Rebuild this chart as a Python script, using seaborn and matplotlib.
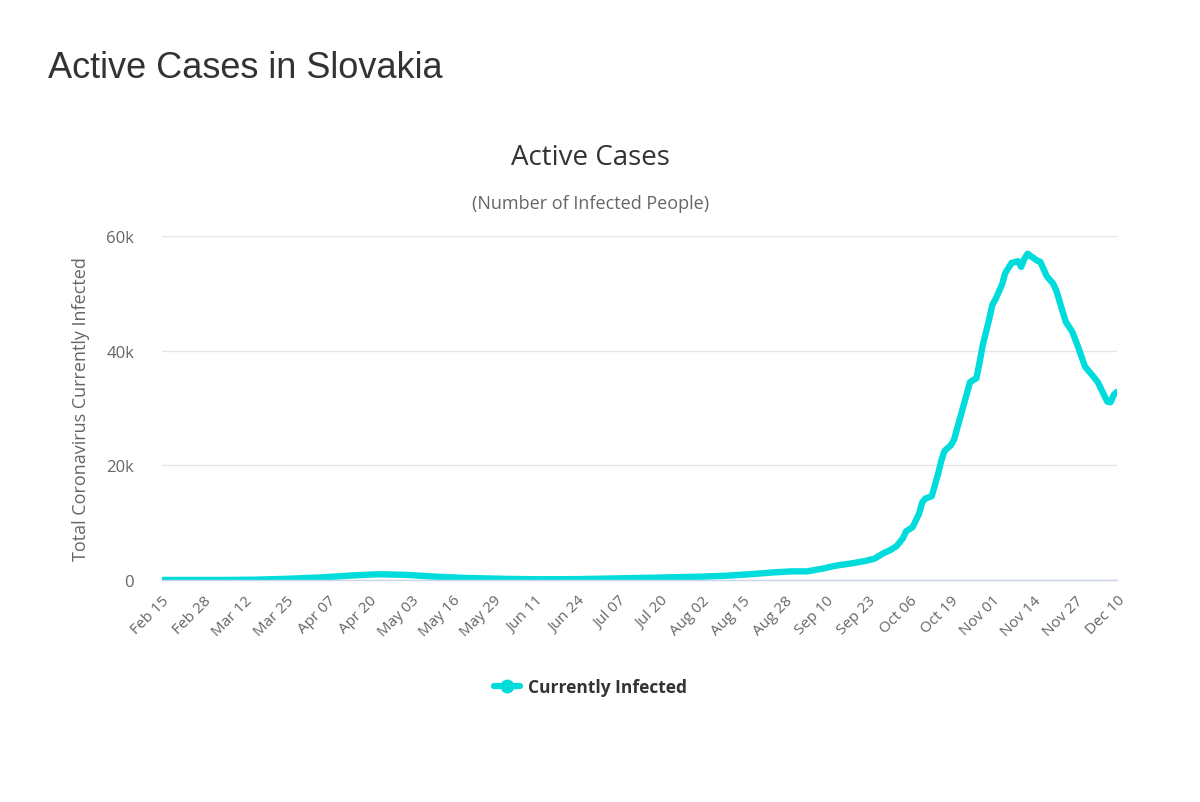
import pandas as pd
import matplotlib.pyplot as plt
import matplotlib.ticker as mticker
from matplotlib.lines import Line2D
import seaborn as sns

# Datos (casos activos en Eslovaquia, 2020)
fechas = ['2020-02-15', '2020-03-05', '2020-03-15', '2020-03-25', '2020-04-05',
          '2020-04-15', '2020-04-23', '2020-05-01', '2020-05-10', '2020-05-20',
          '2020-06-01', '2020-06-11', '2020-06-24', '2020-07-07', '2020-07-20',
          '2020-08-02', '2020-08-10', '2020-08-17', '2020-08-24', '2020-08-30',
          '2020-09-04', '2020-09-09', '2020-09-13', '2020-09-18', '2020-09-22',
          '2020-09-25', '2020-09-28', '2020-09-30', '2020-10-02', '2020-10-04',
          '2020-10-05', '2020-10-07', '2020-10-09', '2020-10-10', '2020-10-11',
          '2020-10-13', '2020-10-15', '2020-10-16', '2020-10-17', '2020-10-19',
          '2020-10-20', '2020-10-22', '2020-10-24', '2020-10-25', '2020-10-27',
          '2020-10-28', '2020-10-29', '2020-10-31', '2020-11-01', '2020-11-02',
          '2020-11-04', '2020-11-05', '2020-11-07', '2020-11-09', '2020-11-10',
          '2020-11-11', '2020-11-12', '2020-11-13', '2020-11-15', '2020-11-16',
          '2020-11-18', '2020-11-20', '2020-11-21', '2020-11-23', '2020-11-24',
          '2020-11-26', '2020-11-28', '2020-11-30', '2020-12-02', '2020-12-04',
          '2020-12-06', '2020-12-07', '2020-12-08', '2020-12-09', '2020-12-10']
activos = [0, 0, 50, 200, 450,
           800, 1000, 900, 600, 350,
           200, 120, 150, 280, 420,
           580, 750, 1000, 1300, 1500,
           1500, 2000, 2500, 2900, 3300,
           3700, 4700, 5200, 5900, 7300,
           8500, 9200, 11500, 13500, 14200,
           14600, 18500, 20800, 22500, 23500,
           24500, 28500, 32500, 34500, 35200,
           38000, 41000, 45500, 48000, 49000,
           51500, 53500, 55300, 55600, 54600,
           56000, 56900, 56500, 55700, 55500,
           53000, 51700, 50500, 46800, 45000,
           43300, 40400, 37200, 35900, 34500,
           32200, 31100, 31000, 32300, 32800]

df = pd.DataFrame({'fecha': pd.to_datetime(fechas), 'activos': activos})
ticks = pd.date_range('2020-02-15', '2020-12-10', freq='13D')

color_linea = '#00dcdc'
gris = '#666666'

sns.set_style('white')
plt.rcParams['font.family'] = ['Open Sans', 'DejaVu Sans']

fig = plt.figure(figsize=(12, 8.03), dpi=100)
ax = fig.add_axes([0.135, 0.2765, 0.7958, 0.4284])

sns.lineplot(data=df, x='fecha', y='activos', color=color_linea, linewidth=4.6,
             ax=ax, legend=False)

ax.set_xlim(ticks[0], ticks[-1])
ax.set_ylim(0, 60000)
ax.set_yticks([0, 20000, 40000, 60000])
ax.yaxis.set_major_formatter(mticker.FuncFormatter(
    lambda v, p: '0' if v == 0 else f'{int(v / 1000)}k'))
ax.set_xticks(ticks)
ax.set_xticklabels([t.strftime('%b %d') for t in ticks], rotation=45,
                   ha='right', rotation_mode='anchor')
ax.tick_params(axis='x', colors=gris, labelsize=11, length=0, pad=9)
ax.tick_params(axis='y', colors=gris, labelsize=12, length=0, pad=20)

ax.grid(axis='y', color='#e6e6e6', linewidth=1)
ax.set_axisbelow(True)
for s in ['top', 'right', 'left']:
    ax.spines[s].set_visible(False)
ax.spines['bottom'].set_color('#ccd6eb')
ax.spines['bottom'].set_linewidth(1)

ax.set_xlabel('')
ax.set_ylabel('Total Coronavirus Currently Infected', color=gris, fontsize=13,
              labelpad=12)

# Titulos
fig.text(0.04, 0.915, 'Active Cases in Slovakia', fontsize=26, color='#333333',
         family=['Liberation Sans', 'DejaVu Sans'], va='center')
fig.text(0.492, 0.803, 'Active Cases', fontsize=20, color='#333333',
         ha='center', va='center')
fig.text(0.492, 0.746, '(Number of Infected People)', fontsize=13, color=gris,
         ha='center', va='center')

# Leyenda
handle = Line2D([0], [0], color=color_linea, linewidth=4.5, marker='o',
                markersize=9)
fig.legend([handle], ['Currently Infected'], loc='center',
           bbox_to_anchor=(0.492, 0.143), frameon=False, handlelength=1.5,
           handletextpad=0.5, prop={'weight': 'bold', 'size': 12.5},
           labelcolor='#333333')

fig.savefig('out.png', dpi=100)
